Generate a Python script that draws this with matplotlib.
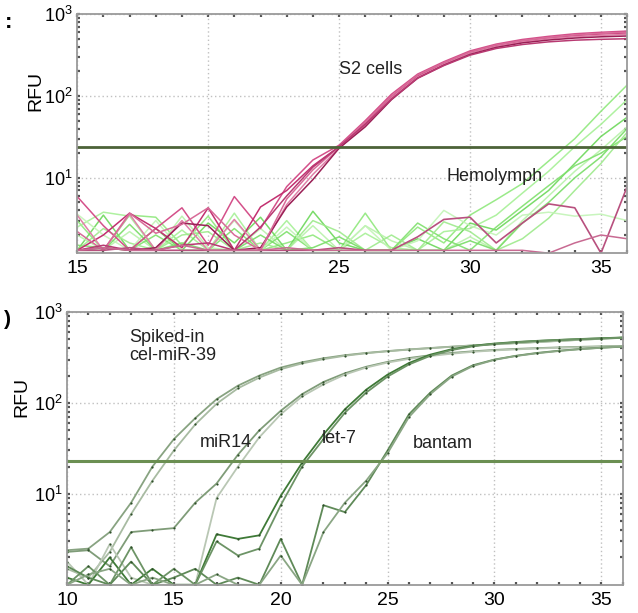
import matplotlib
matplotlib.use("Agg")
import matplotlib.pyplot as plt
from matplotlib.ticker import MultipleLocator, LogLocator, NullFormatter, FixedLocator

plt.rcParams['font.family'] = ['Liberation Sans Narrow', 'Liberation Sans', 'DejaVu Sans']

# ---- top panel: S2 cells vs hemolymph ----
cycles_top = list(range(15, 37))

s2_1 = [5.9, 2.6, 1.3, 2.4, 4.3, 1.5, 5.9, 2.4, 7.8, 16.5, 25, 50, 105, 185, 262, 355, 430, 490, 535, 575, 600, 620]
s2_2 = [1.3, 2.0, 3.7, 2.4, 1.4, 4.3, 1.3, 4.4, 7.0, 14.0, 24, 46, 98, 176, 250, 342, 415, 470, 512, 548, 572, 590]
s2_3 = [3.5, 1.3, 3.6, 1.3, 3.0, 1.3, 3.1, 1.3, 4.7, 11.0, 23, 44, 95, 170, 245, 335, 405, 458, 500, 530, 550, 565]
s2_4 = [1.3, 1.4, 1.3, 1.4, 2.8, 2.6, 1.3, 1.4, 4.4, 9.5, 23, 42, 90, 165, 238, 322, 392, 445, 482, 510, 528, 540]
s2_5 = [2.2, 1.3, 3.7, 2.1, 2.7, 4.3, 2.0, 1.3, 5.5, 12.5, 24, 48, 100, 180, 255, 345, 420, 475, 518, 555, 580, 600]
s2_6 = [1.3, 1.5, 1.3, 1.3, 1.5, 1.6, 1.3, 2.5, 6.0, 13.5, 24, 45, 92, 165, 235, 315, 380, 425, 458, 480, 492, 500]

pk_1 = [1.3, 1.3, 1.4, 1.3, 1.3, 1.3, 1.3, 1.3, 1.3, 1.3, 1.4, 1.3, 1.3, 1.9, 3.1, 3.3, 1.6, 2.8, 4.8, 4.3, 1.2, 7.8]
pk_2 = [1.3, 1.4, 1.3, 1.3, 1.5, 1.3, 1.3, 1.3, 1.4, 1.3, 1.3, 1.3, 1.3, 1.3, 1.3, 1.3, 1.3, 1.3, 1.2, 1.6, 2.0, 1.8]

h_1 = [3.0, 1.3, 3.5, 3.3, 1.5, 3.4, 1.3, 1.3, 1.6, 2.0, 1.3, 3.7, 1.3, 2.5, 1.6, 3.5, 5.4, 8.5, 16, 30, 65, 136]
h_2 = [2.5, 3.8, 3.4, 1.3, 2.3, 1.3, 3.7, 1.3, 3.0, 1.3, 1.3, 2.1, 1.4, 1.3, 2.2, 2.4, 3.5, 6.5, 12, 24, 45, 90]
h_3 = [1.3, 3.5, 1.3, 2.4, 1.3, 2.8, 1.6, 3.3, 1.3, 3.9, 1.6, 1.3, 1.3, 1.8, 1.3, 2.8, 2.3, 4.0, 7.0, 15, 32, 55]
h_4 = [2.0, 1.3, 2.2, 1.3, 3.4, 1.4, 1.3, 2.4, 1.3, 2.6, 1.3, 2.6, 1.7, 1.3, 1.3, 1.9, 1.3, 3.0, 6.0, 12, 22, 42]
h_5 = [1.5, 1.4, 1.3, 2.0, 1.3, 1.3, 2.4, 1.3, 2.2, 1.3, 1.3, 1.3, 1.3, 2.8, 1.8, 1.3, 2.5, 4.5, 8.0, 14, 20, 32]
h_6 = [1.3, 2.4, 1.6, 1.3, 2.0, 2.2, 1.3, 1.6, 1.3, 3.0, 2.2, 1.3, 2.0, 1.3, 2.9, 2.2, 1.3, 1.8, 3.2, 7.0, 15, 36]
h_7 = [3.6, 2.0, 1.3, 3.0, 1.3, 1.3, 3.0, 1.3, 2.5, 1.3, 1.3, 2.6, 1.3, 1.7, 4.0, 2.6, 2.0, 3.5, 3.8, 3.4, 3.6, 3.0]
h_8 = [1.3, 1.3, 2.7, 1.3, 1.6, 1.3, 1.3, 2.0, 1.3, 1.4, 1.9, 1.3, 1.3, 1.3, 1.3, 1.7, 1.3, 2.8, 5.0, 10, 18, 40]

# ---- bottom panel: miRNAs ----
cycles_bot = list(range(10, 37))

c39_1 = [2.4, 2.5, 3.8, 8.0, 20, 40, 68, 110, 155, 200, 245, 280, 310, 335, 355, 372, 388, 402, 416, 430, 443, 456, 469, 482, 495, 508, 522]
c39_2 = [1.5, 1.2, 2.3, 6.0, 14, 30, 58, 98, 145, 190, 235, 272, 303, 330, 352, 370, 386, 400, 415, 428, 441, 454, 467, 480, 494, 508, 520]
m14_1 = [2.3, 2.4, 1.6, 3.8, 4.0, 4.2, 8.0, 13, 27, 50, 82, 125, 170, 212, 250, 283, 312, 335, 355, 370, 383, 393, 401, 408, 414, 419, 424]
m14_2 = [1.8, 1.0, 2.8, 1.2, 1.0, 1.0, 1.0, 9.0, 20, 42, 75, 118, 160, 205, 245, 278, 305, 328, 348, 365, 378, 388, 397, 404, 410, 415, 420]
l7_1 = [1.2, 1.0, 2.0, 1.0, 1.5, 1.0, 1.0, 3.6, 3.2, 3.5, 9.5, 22, 45, 85, 140, 205, 275, 340, 390, 425, 450, 468, 482, 494, 505, 515, 525]
l7_2 = [1.0, 1.6, 1.0, 2.6, 1.0, 1.5, 1.0, 3.0, 2.1, 2.5, 7.5, 20, 40, 78, 130, 195, 265, 330, 382, 420, 446, 465, 480, 492, 503, 513, 522]
b_1 = [1.6, 1.2, 1.0, 1.8, 1.0, 1.2, 1.5, 1.0, 1.2, 1.0, 3.2, 1.0, 7.5, 6.3, 12.5, 30, 75, 130, 200, 260, 300, 330, 355, 375, 392, 405, 415]
b_2 = [1.0, 1.3, 1.5, 1.0, 1.2, 1.0, 1.0, 1.3, 1.0, 1.0, 2.1, 1.0, 3.8, 8.0, 14, 28, 70, 125, 195, 255, 298, 328, 352, 372, 390, 404, 418]

threshold_top = 24
threshold_bot = 23


def style_axes(ax, xmin, xmax, ymin):
    ax.set_yscale('log')
    ax.set_xlim(xmin, xmax)
    ax.set_ylim(ymin, 1000)
    ax.xaxis.set_major_locator(MultipleLocator(5))
    ax.xaxis.set_minor_locator(MultipleLocator(1))
    ax.yaxis.set_major_locator(FixedLocator([10, 100, 1000]))
    ax.yaxis.set_minor_locator(LogLocator(base=10, subs=range(2, 10)))
    ax.yaxis.set_minor_formatter(NullFormatter())
    ax.grid(True, which='major', linestyle=(0, (1, 2)), color='#c0c0c0', lw=1)
    ax.tick_params(which='both', direction='in', top=True, right=True,
                   color='#555555', width=1.6, length=2)
    ax.tick_params(axis='x', labelsize=14, pad=5)
    ax.tick_params(axis='y', labelsize=13, pad=3)
    for sp in ax.spines.values():
        sp.set_color('#9a9a9a')
        sp.set_linewidth(1.3)
    ax.set_ylabel('RFU', fontsize=14)


fig = plt.figure(figsize=(6.38, 6.13), dpi=100)
ax1 = fig.add_axes([0.121, 0.587, 0.862, 0.390])
ax2 = fig.add_axes([0.105, 0.046, 0.871, 0.445])

# top panel
greens = ['#8fe87c', '#a6f096', '#6cd85a', '#b8f2aa', '#7fe06c', '#9eea8c', '#c2f4b6', '#78dc66']
for ys, col in zip([h_1, h_2, h_3, h_4, h_5, h_6, h_7, h_8], greens):
    ax1.plot(cycles_top, ys, color=col, lw=1.1, alpha=0.9)
pinks = ['#d4508a', '#c23070', '#e080a8', '#9a1f55', '#d86a98', '#b83a72']
for ys, col in zip([s2_1, s2_2, s2_3, s2_4, s2_5, s2_6], pinks):
    ax1.plot(cycles_top, ys, color=col, lw=1.1)
ax1.plot(cycles_top, pk_1, color='#b8507e', lw=1.2)
ax1.plot(cycles_top, pk_2, color='#c86a92', lw=1.1)
ax1.axhline(threshold_top, color='#4c6238', lw=2)
style_axes(ax1, 15, 36, 1.2)
ax1.yaxis.set_label_coords(-0.060, 0.68)
ax1.text(25.0, 210, 'S2 cells', fontsize=13, va='center', color='#222222')
ax1.text(29.1, 10.5, 'Hemolymph', fontsize=13, va='center', color='#222222')

# bottom panel
bot_series = [c39_1, c39_2, m14_1, m14_2, l7_1, l7_2, b_1, b_2]
bot_colors = ['#88a381', '#a8bba2', '#7f9c78', '#b9c7b4', '#3f7a37', '#6d9466', '#5f8a58', '#8aa684']
for ys, col in zip(bot_series, bot_colors):
    ax2.plot(cycles_bot, ys, color=col, lw=1.3, marker='o', ms=1.6,
             mfc='#2f4f2a', mec='none')
ax2.axhline(threshold_bot, color='#6b8f52', lw=2.2)
style_axes(ax2, 10, 36, 1.0)
ax2.yaxis.set_label_coords(-0.066, 0.69)
ax2.text(12.9, 420, 'Spiked-in\ncel-miR-39', fontsize=13, va='center', color='#222222',
         linespacing=1.1)
ax2.text(16.2, 37, 'miR14', fontsize=13, va='center', color='#222222')
ax2.text(21.9, 41, 'let-7', fontsize=13, va='center', color='#222222')
ax2.text(26.2, 36, 'bantam', fontsize=13, va='center', color='#222222')

# cut-off panel letters at the left edge
fig.text(0.008, 0.963, ':', fontsize=16, fontweight='bold', va='center')
fig.text(0.006, 0.478, ')', fontsize=15, fontweight='bold', va='center')

fig.savefig('out.png', dpi=100)
